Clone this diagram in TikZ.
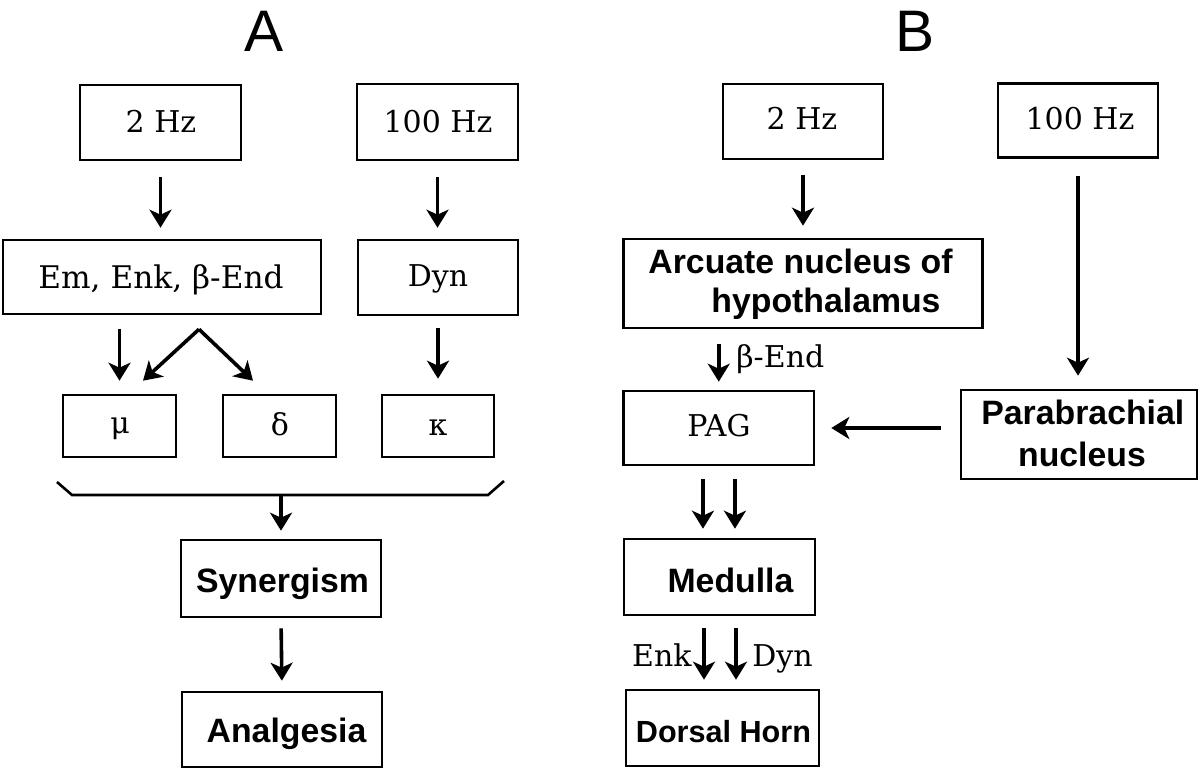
\documentclass[tikz,border=0pt]{standalone}
\usepackage{fontspec}
\setmainfont{DejaVu Serif}
\newfontfamily\hvf{Liberation Sans}
\usetikzlibrary{arrows.meta}
\begin{document}
\begin{tikzpicture}[x=0.5pt,y=-0.5pt,
  box/.style={draw, line width=1.3pt, inner sep=0pt, rectangle},
  arr/.style={-{Stealth[length=9pt,width=11pt,inset=2.5pt]}, line width=1.8pt},
  sr/.style={font=\fontsize{15pt}{18pt}\selectfont, inner sep=0pt, anchor=base},
  sb/.style={font=\hvf\bfseries\fontsize{16.9pt}{20pt}\selectfont, inner sep=0pt, anchor=base},
  ttl/.style={font=\hvf\fontsize{29.3pt}{32pt}\selectfont, inner sep=0pt, anchor=base},
  brk/.style={line width=1.3pt}
]
\useasboundingbox (0,0) rectangle (1200,769);

% ---------------- Panel A ----------------
\node[ttl] (tA) at (264,52) {A};

\node[box, minimum width=80.5pt, minimum height=37.5pt] (a2hz) at (160.5,122.5) {};
\node[box, minimum width=80.5pt, minimum height=38pt] (a100) at (437.5,122) {};
\node[box, minimum width=159pt, minimum height=37pt] (aem) at (162,277) {};
\node[box, minimum width=80pt, minimum height=37.5pt] (adyn) at (438,277.5) {};
\node[box, minimum width=56.5pt, minimum height=31pt] (amu) at (119.5,426) {};
\node[box, minimum width=56.5pt, minimum height=31pt] (adelta) at (279.5,426) {};
\node[box, minimum width=56pt, minimum height=31pt] (akappa) at (438,426) {};
\node[box, minimum width=100pt, minimum height=38.5pt] (asyn) at (281,578.5) {};
\node[box, minimum width=100pt, minimum height=37.5pt] (aanal) at (282,729.5) {};

\node[sr] (t2hzA) at (161,133) {2 Hz};
\node[sr] (t100A) at (438,133) {100 Hz};
\node[sr, font=\fontsize{15.6pt}{18pt}\selectfont] (tem) at (161,289) {Em, Enk, β-End};
\node[sr] (tdynA) at (438,287) {Dyn};
\node[sr] (tmu) at (120,434) {μ};
\node[sr] (tdelta) at (280,436) {δ};
\node[sr] (tkappa) at (438,436) {κ};
\node[sb] (tsyn) at (282.5,593) {Synergism};
\node[sb] (tanal) at (286.5,742) {Analgesia};

\draw[arr, shorten <=8pt, shorten >=5.5pt] (a2hz.south) -- (a2hz.south |- aem.north);
\draw[arr, shorten <=8pt, shorten >=5.5pt] (a100.south) -- (a100.south |- adyn.north);
\draw[arr, shorten <=7pt, shorten >=6.5pt] (amu.north |- aem.south) -- (amu.north);
\coordinate (apex) at ([shift={(37,14)}]aem.south);
\draw[arr] (apex) -- ([shift={(23.5,-13)}]amu.north);
\draw[arr] (apex) -- ([shift={(-26.5,-13)}]adelta.north);
\draw[arr, shorten <=6pt, shorten >=7.5pt] (akappa.north |- adyn.south) -- (akappa.north);

\coordinate (brl) at (57,482);
\coordinate (brl2) at (72,495);
\coordinate (brr2) at (488,495);
\coordinate (brr) at (504,481);
\coordinate (brm) at (281,495);
\draw[brk] (brl) -- (brl2) -- (brr2) -- (brr);
\draw[arr, shorten >=4pt] (brm) -- (brm |- asyn.north);
\draw[arr, shorten <=5pt, shorten >=5pt] (asyn.south) -- (aanal.north);

% ---------------- Panel B ----------------
\node[ttl] (tB) at (915,52) {B};

\node[box, minimum width=80pt, minimum height=37.5pt] (b2hz) at (803,121.5) {};
\node[box, minimum width=80pt, minimum height=37pt] (b100) at (1078,120.5) {};
\node[box, minimum width=179.5pt, minimum height=44.5pt] (barc) at (803,283.5) {};
\node[box, minimum width=95.25pt, minimum height=37pt] (bpag) at (718.75,428) {};
\node[box, minimum width=118pt, minimum height=44.5pt] (bpara) at (1079,434.5) {};
\node[box, minimum width=95.5pt, minimum height=38pt] (bmed) at (719.5,577) {};
\node[box, minimum width=96.5pt, minimum height=38pt] (bdh) at (722.5,728) {};

\node[sr] (t2hzB) at (802,130) {2 Hz};
\node[sr] (t100B) at (1080,130) {100 Hz};
\node[sb, anchor=base west] (tarc1) at (648,274) {Arcuate nucleus of};
\node[sb, anchor=base west] (tarc2) at (711,313) {hypothalamus};
\node[sr] (tpag) at (719,437) {PAG};
\node[sb, anchor=base west] (tpara1) at (981,425) {Parabrachial};
\node[sb] (tpara2) at (1082,467) {nucleus};
\node[sb] (tmed) at (730.5,593) {Medulla};
\node[sb, font=\hvf\bfseries\fontsize{15.3pt}{18pt}\selectfont] (tdh) at (723.5,742) {Dorsal Horn};
\node[sr, anchor=base west] (tbend) at (736,368) {β-End};
\node[sr, anchor=base east] (tenk) at (692,667) {Enk};
\node[sr, anchor=base west] (tdynB) at (752,667) {Dyn};

\draw[arr, shorten <=7.5pt, shorten >=6pt] (b2hz.south) -- (b2hz.south |- barc.north);
\draw[arr, shorten <=8.5pt, shorten >=6.5pt] (b100.south) -- (b100.south |- bpara.north);
\draw[arr, shorten <=7.5pt, shorten >=4pt] (bpag.north |- barc.south) -- (bpag.north);
\draw[arr, shorten <=9.5pt, shorten >=8pt] (bpara.west |- bpag.east) -- (bpag.east);

\coordinate (p1) at ([xshift=-7.9pt]bpag.south);
\coordinate (p2) at ([xshift=8.1pt]bpag.south);
\draw[arr, shorten <=6.5pt, shorten >=4.5pt] (p1) -- (p1 |- bmed.north);
\draw[arr, shorten <=6.5pt, shorten >=4.5pt] (p2) -- (p2 |- bmed.north);

\coordinate (m1) at ([xshift=-7.75pt]bmed.south);
\coordinate (m2) at ([xshift=8.25pt]bmed.south);
\draw[arr, shorten <=6pt, shorten >=4.5pt] (m1) -- (m1 |- bdh.north);
\draw[arr, shorten <=6pt, shorten >=4.5pt] (m2) -- (m2 |- bdh.north);
\end{tikzpicture}
\end{document}
